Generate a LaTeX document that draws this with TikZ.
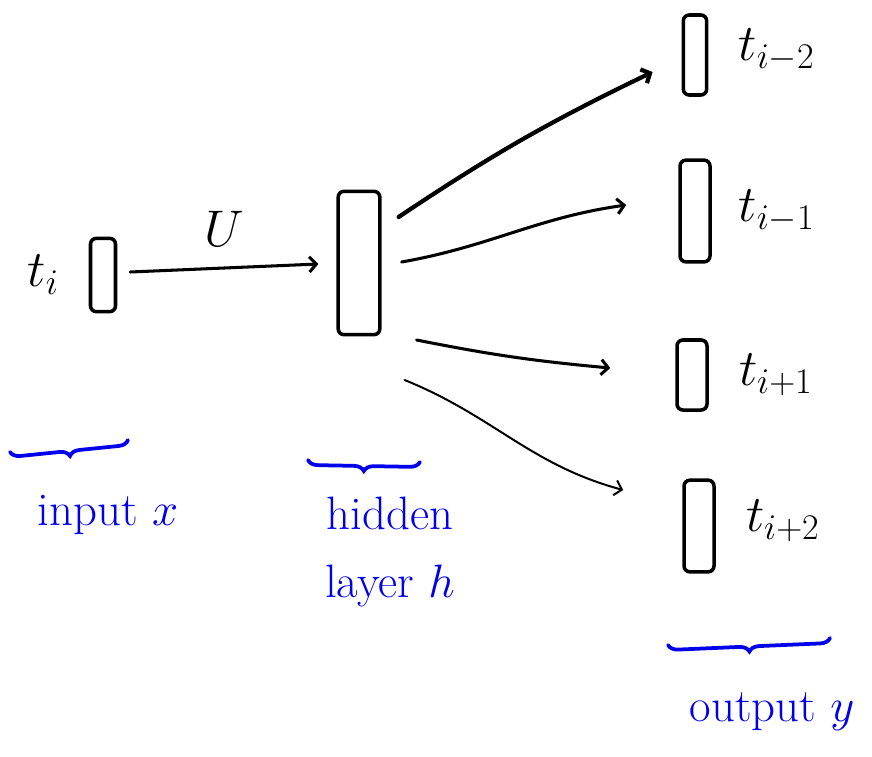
\RequirePackage{fix-cm}
\documentclass[tikz,border=0pt]{standalone}
\usetikzlibrary{arrows.meta,decorations.pathreplacing,positioning}
\definecolor{penblue}{RGB}{0,0,235}
\tikzset{cell/.style={draw, line width=3pt, rounded corners=5pt, inner sep=0pt},
  link/.style={-{Straight Barb[length=6pt,width=13pt]}, line width=2.6pt, line cap=round},
  word/.style={inner sep=0pt, font=\fontsize{44}{50}\selectfont},
  note/.style={penblue, inner sep=0pt, align=center, font=\fontsize{40}{58}\selectfont},
  curly/.style={penblue, line width=3.2pt, line cap=round, decorate, decoration={brace, mirror, amplitude=0.3cm}}}

\begin{document}
\begin{tikzpicture}[x=0.03cm, y=-0.03cm]
  \useasboundingbox (0,0) rectangle (872,756);
  % one word in, one hidden layer, four context words out
  \node[cell, minimum width=0.75cm, minimum height=2.2cm] (in) at (103,275) {};
  \node[cell, minimum width=1.25cm, minimum height=4.3cm] (hid) at (359,263) {};
  \node[cell, minimum width=0.7cm, minimum height=2.4cm] (outA) at (695,55) {};
  \node[cell, minimum width=0.9cm, minimum height=3.05cm] (outB) at (695,211) {};
  \node[cell, minimum width=0.9cm, minimum height=2.1cm] (outC) at (692,375) {};
  \node[cell, minimum width=0.9cm, minimum height=2.75cm] (outD) at (699,526) {};
  \node[word, left=0.9cm of in] (ti) {$t_i$};
  \node[word, right=0.9cm of outA, yshift=0.15cm] (tA) {$t_{i-2}$};
  \node[word, right=0.8cm of outB] (tB) {$t_{i-1}$};
  \node[word, right=0.9cm of outC] (tC) {$t_{i+1}$};
  \node[word, right=0.9cm of outD, yshift=0.15cm] (tD) {$t_{i+2}$};

  % weights
  \draw[link] ([shift={(13,-3)}]in.east) -- node[word, above=0.6cm] (u) {$U$} ([shift={(-18,1)}]hid.west);
  \draw[link, line width=3.6pt] ([shift={(17,-46)}]hid.east) to[bend left=4] ([shift={(-29,17)}]outA.west);
  \draw[link] ([shift={(20,-1)}]hid.east) to[out=10,in=188] ([shift={(-52,-6)}]outB.west);
  \draw[link] ([shift={(35,77)}]hid.east) to[bend right=3] ([shift={(-65,-7)}]outC.west);
  \draw[link, line width=1.7pt] ([shift={(23,117)}]hid.east) to[out=-22,in=165] ([shift={(-59,-36)}]outD.west);

  % layer names
  \draw[curly] (10,452) -- (128,440);
  \draw[curly] (308,460) -- (420,462);
  \draw[curly] (668,645) -- (830,638);
  \node[note] (inx) at (108,515) {input $x$};
  \node[note] (hidx) at (390,552) {hidden\\layer $h$};
  \node[note] (outy) at (772,712) {output $y$};
\end{tikzpicture}
\end{document}
